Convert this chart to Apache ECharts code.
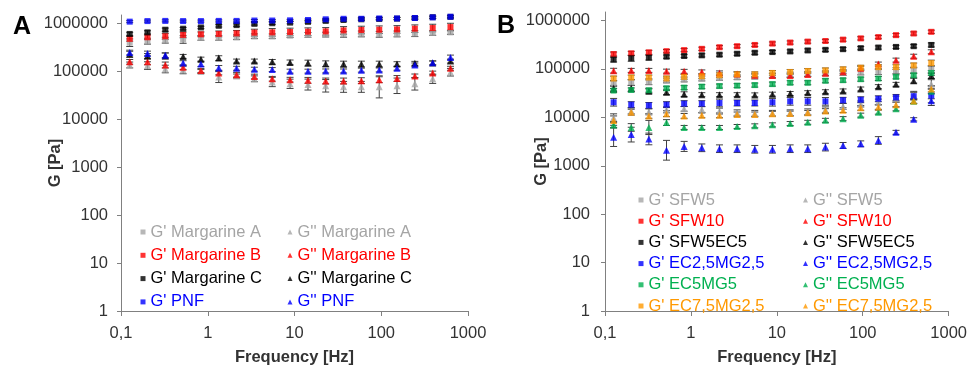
<!DOCTYPE html>
<html>
<head>
<meta charset="utf-8">
<script src="https://cdn.jsdelivr.net/npm/echarts@6/dist/echarts.min.js"></script>
<style>
  html, body { margin: 0; padding: 0; background: #fff; }
  #chart { width: 970px; height: 371px; }
</style>
</head>
<body>
<div id="chart"></div>
<script>
// frequency points (Hz), shared by every series
const freq = [0.126, 0.202, 0.324, 0.520, 0.834, 1.34, 2.15, 3.45, 5.54, 8.89, 14.3, 22.9, 36.8, 59.0, 94.8, 152, 244, 392, 628];
const xTicks = [0.1, 1, 10, 100, 1000];
const yTicks = [1, 10, 100, 1000, 10000, 100000, 1000000];

// Panel A: margarines (G' storage, G'' loss modulus, Pa) and relative error
const gpMargA  = [3.96e5, 4.26e5, 4.47e5, 4.62e5, 5.0e5, 5.0e5, 5.15e5, 5.4e5, 5.4e5, 5.58e5, 5.77e5, 5.85e5, 5.93e5, 6.04e5, 5.93e5, 6.04e5, 6.12e5, 6.33e5, 6.52e5];
const gppMargA = [1.36e5, 1.32e5, 1.12e5, 1.07e5, 9.9e4, 7.6e4, 8.0e4, 7.0e4, 6.0e4, 5.5e4, 5.3e4, 5.0e4, 4.75e4, 4.75e4, 4.75e4, 5.0e4, 5.5e4, 7.0e4, 9.6e4];
const gpMargB  = [4.77e5, 5.15e5, 5.4e5, 5.77e5, 5.93e5, 6.04e5, 6.21e5, 6.42e5, 6.52e5, 6.64e5, 6.73e5, 6.83e5, 7.16e5, 7.29e5, 7.4e5, 7.5e5, 7.77e5, 8.02e5, 8.4e5];
const gppMargB = [1.58e5, 1.58e5, 1.36e5, 1.22e5, 1.04e5, 9.3e4, 8.5e4, 7.8e4, 7.0e4, 6.7e4, 6.5e4, 6.3e4, 6.3e4, 6.4e4, 6.7e4, 7.1e4, 8.0e4, 9.2e4, 1.16e5];
const gpMargC  = [6.04e5, 6.52e5, 7.4e5, 7.77e5, 8.24e5, 8.93e5, 9.23e5, 9.81e5, 1.01e6, 1.04e6, 1.08e6, 1.13e6, 1.18e6, 1.22e6, 1.24e6, 1.26e6, 1.30e6, 1.35e6, 1.37e6];
const gppMargC = [2.28e5, 2.1e5, 2.1e5, 2.05e5, 1.8e5, 1.89e5, 1.64e5, 1.64e5, 1.58e5, 1.54e5, 1.49e5, 1.44e5, 1.42e5, 1.42e5, 1.42e5, 1.42e5, 1.47e5, 1.49e5, 1.64e5];
const gpPNF    = [1.09e6, 1.12e6, 1.13e6, 1.12e6, 1.12e6, 1.13e6, 1.13e6, 1.15e6, 1.15e6, 1.16e6, 1.18e6, 1.22e6, 1.25e6, 1.25e6, 1.27e6, 1.27e6, 1.30e6, 1.34e6, 1.38e6];
const gppPNF   = [2.47e5, 2.36e5, 2.17e5, 1.49e5, 1.42e5, 1.18e5, 1.16e5, 1.11e5, 1.09e5, 1.01e5, 1.01e5, 1.02e5, 1.02e5, 1.06e5, 1.07e5, 1.16e5, 1.36e5, 1.51e5, 1.95e5];

const eGpMargA  = [0.2, 0.15, 0.15, 0.2, 0.12, 0.12, 0.12, 0.12, 0.12, 0.1, 0.12, 0.12, 0.15, 0.15, 0.15, 0.15, 0.15, 0.12, 0.1];
const eGppMargA = [0.15, 0.2, 0.2, 0.2, 0.1, 0.3, 0.1, 0.15, 0.25, 0.25, 0.3, 0.35, 0.3, 0.3, 0.7, 0.45, 0.35, 0.25, 0.2];
const eGpMargB  = [0.12, 0.12, 0.15, 0.15, 0.12, 0.15, 0.15, 0.18, 0.2, 0.2, 0.2, 0.2, 0.2, 0.2, 0.2, 0.2, 0.2, 0.2, 0.2];
const eGppMargB = [0.12, 0.15, 0.15, 0.12, 0.1, 0.1, 0.12, 0.12, 0.12, 0.12, 0.15, 0.15, 0.15, 0.15, 0.15, 0.15, 0.1, 0.1, 0.1];
const eGpMargC  = [0.08, 0.08, 0.08, 0.06, 0.06, 0.06, 0.06, 0.06, 0.06, 0.06, 0.06, 0.06, 0.06, 0.06, 0.06, 0.06, 0.06, 0.06, 0.06];
const eGppMargC = [0.15, 0.12, 0.15, 0.1, 0.1, 0.12, 0.1, 0.1, 0.12, 0.12, 0.15, 0.15, 0.15, 0.15, 0.15, 0.12, 0.1, 0.1, 0.1];
const eGpPNF    = [0.05, 0.05, 0.05, 0.05, 0.05, 0.05, 0.05, 0.05, 0.05, 0.05, 0.05, 0.05, 0.05, 0.05, 0.05, 0.05, 0.05, 0.05, 0.05];
const eGppPNF   = [0.12, 0.12, 0.12, 0.12, 0.12, 0.12, 0.1, 0.1, 0.1, 0.1, 0.1, 0.1, 0.1, 0.1, 0.1, 0.1, 0.1, 0.1, 0.12];

// Panel B: formulations
const gpSFW5    = [5.02e4, 5.26e4, 5.44e4, 5.78e4, 6.06e4, 6.34e4, 6.56e4, 6.74e4, 6.96e4, 7.3e4, 7.64e4, 7.9e4, 8.12e4, 8.27e4, 8.67e4, 8.79e4, 9.2e4, 9.42e4, 9.65e4];
const gppSFW5   = [9.85e3, 1.36e4, 1.30e4, 1.43e4, 1.50e4, 1.45e4, 1.35e4, 1.24e4, 1.21e4, 1.21e4, 1.24e4, 1.30e4, 1.43e4, 1.68e4, 1.89e4, 2.07e4, 2.39e4, 2.87e4, 4.8e4];
const gpSFW10   = [2.03e5, 2.10e5, 2.2e5, 2.33e5, 2.45e5, 2.6e5, 2.81e5, 2.95e5, 3.13e5, 3.34e5, 3.51e5, 3.67e5, 3.78e5, 4.03e5, 4.28e5, 4.55e5, 4.99e5, 5.4e5, 5.84e5];
const gppSFW10  = [9.2e4, 9.33e4, 9.33e4, 9.0e4, 8.91e4, 8.67e4, 8.27e4, 7.9e4, 7.4e4, 7.3e4, 7.3e4, 7.64e4, 8.12e4, 8.79e4, 1.03e5, 1.26e5, 1.52e5, 1.83e5, 2.26e5];
const gpSFW5EC5 = [1.56e5, 1.66e5, 1.71e5, 1.79e5, 1.85e5, 1.91e5, 1.97e5, 2.06e5, 2.16e5, 2.23e5, 2.3e5, 2.41e5, 2.48e5, 2.56e5, 2.69e5, 2.77e5, 2.85e5, 2.95e5, 3.13e5];
const gppSFW5EC5 = [3.98e4, 3.98e4, 3.46e4, 3.30e4, 3.01e4, 2.94e4, 2.94e4, 2.94e4, 2.91e4, 3.01e4, 3.11e4, 3.23e4, 3.38e4, 3.51e4, 3.85e4, 4.31e4, 4.8e4, 5.7e4, 7.3e4];
const gpEC25    = [2.05e4, 1.83e4, 1.76e4, 1.83e4, 1.92e4, 1.92e4, 1.98e4, 1.98e4, 1.98e4, 2.05e4, 2.14e4, 2.14e4, 2.14e4, 2.25e4, 2.31e4, 2.42e4, 2.58e4, 2.74e4, 2.81e4];
const gppEC25   = [3.88e3, 4.4e3, 3.58e3, 2.09e3, 2.51e3, 2.35e3, 2.25e3, 2.25e3, 2.19e3, 2.19e3, 2.25e3, 2.25e3, 2.43e3, 2.63e3, 2.84e3, 3.33e3, 4.9e3, 9.1e3, 2.2e4];
const gpEC5     = [3.58e4, 3.68e4, 3.63e4, 3.98e4, 4.11e4, 4.31e4, 4.43e4, 4.52e4, 4.64e4, 4.86e4, 5.19e4, 5.19e4, 5.7e4, 5.86e4, 6.14e4, 6.34e4, 6.87e4, 7.4e4, 8.27e4];
const gppEC5    = [6.94e3, 6.18e3, 6.18e3, 7.8e3, 6.18e3, 6.18e3, 6.18e3, 6.47e3, 6.68e3, 7.0e3, 7.45e3, 7.9e3, 8.68e3, 9.4e3, 1.11e4, 1.28e4, 1.50e4, 2.14e4, 3.46e4];
const gpEC75    = [6.34e4, 6.65e4, 6.65e4, 6.34e4, 6.87e4, 7.06e4, 7.4e4, 7.75e4, 7.75e4, 8.27e4, 8.67e4, 9.08e4, 9.33e4, 9.8e4, 1.06e5, 1.09e5, 1.09e5, 1.18e5, 1.32e5];
const gppEC75   = [8.56e3, 1.28e4, 1.07e4, 1.19e4, 1.07e4, 1.10e4, 1.10e4, 1.15e4, 1.15e4, 1.19e4, 1.20e4, 1.24e4, 1.35e4, 1.41e4, 1.57e4, 1.64e4, 1.83e4, 2.17e4, 3.85e4];

const eGpSFW5    = [0.15, 0.15, 0.15, 0.12, 0.12, 0.12, 0.12, 0.12, 0.12, 0.12, 0.12, 0.12, 0.12, 0.12, 0.15, 0.15, 0.15, 0.15, 0.2];
const eGppSFW5   = [0.2, 0.15, 0.15, 0.15, 0.12, 0.15, 0.15, 0.15, 0.15, 0.15, 0.15, 0.15, 0.15, 0.15, 0.15, 0.15, 0.15, 0.2, 0.25];
const eGpSFW10   = [0.1, 0.1, 0.1, 0.08, 0.08, 0.08, 0.08, 0.08, 0.08, 0.08, 0.08, 0.08, 0.08, 0.08, 0.08, 0.08, 0.08, 0.08, 0.08];
const eGppSFW10  = [0.12, 0.1, 0.1, 0.1, 0.1, 0.1, 0.1, 0.1, 0.1, 0.1, 0.1, 0.1, 0.1, 0.1, 0.1, 0.1, 0.1, 0.1, 0.1];
const eGpSFW5EC5 = [0.12, 0.15, 0.12, 0.08, 0.08, 0.08, 0.08, 0.08, 0.08, 0.08, 0.08, 0.08, 0.08, 0.08, 0.08, 0.08, 0.08, 0.08, 0.1];
const eGppSFW5EC5 = [0.15, 0.15, 0.12, 0.12, 0.12, 0.1, 0.1, 0.1, 0.1, 0.1, 0.1, 0.1, 0.1, 0.1, 0.1, 0.1, 0.1, 0.12, 0.15];
const eGpEC25    = [0.2, 0.15, 0.15, 0.15, 0.15, 0.15, 0.2, 0.15, 0.15, 0.2, 0.2, 0.2, 0.2, 0.15, 0.15, 0.15, 0.15, 0.2, 0.6];
const eGppEC25   = [0.55, 0.42, 0.32, 0.6, 0.27, 0.2, 0.2, 0.2, 0.2, 0.2, 0.2, 0.2, 0.2, 0.15, 0.15, 0.2, 0.1, 0.08, 0.1];
const eGpEC5     = [0.1, 0.1, 0.1, 0.1, 0.1, 0.1, 0.1, 0.1, 0.1, 0.1, 0.1, 0.1, 0.1, 0.1, 0.1, 0.1, 0.1, 0.1, 0.12];
const eGppEC5    = [0.12, 0.2, 0.4, 0.15, 0.1, 0.1, 0.1, 0.1, 0.1, 0.1, 0.1, 0.1, 0.1, 0.1, 0.1, 0.1, 0.1, 0.1, 0.12];
const eGpEC75    = [0.12, 0.12, 0.12, 0.12, 0.12, 0.12, 0.12, 0.12, 0.12, 0.12, 0.12, 0.12, 0.12, 0.12, 0.12, 0.12, 0.12, 0.12, 0.15];
const eGppEC75   = [0.25, 0.15, 0.12, 0.15, 0.12, 0.12, 0.12, 0.12, 0.12, 0.12, 0.12, 0.12, 0.12, 0.12, 0.12, 0.12, 0.12, 0.12, 0.15];

const GREY = '#a5a5a5', RED = '#ff0000', BLACK = '#000000', BLUE = '#0000ff', GREEN = '#00b050', ORANGE = '#ff9900';
const FONT = '"Liberation Sans", Arial, sans-serif';
const TXT = '#333333';
const AXIS = '#808080';

const chart = echarts.init(document.getElementById('chart'), null, { renderer: 'canvas' });

function errBar(params, api) {
  const x = api.value(0);
  const lo = api.coord([x, api.value(1)]);
  const hi = api.coord([x, api.value(2)]);
  const w = 3.5;
  const st = { stroke: '#404040', lineWidth: 1 };
  return {
    type: 'group',
    children: [
      { type: 'line', shape: { x1: lo[0], y1: lo[1], x2: hi[0], y2: hi[1] }, style: st },
      { type: 'line', shape: { x1: lo[0] - w, y1: lo[1], x2: lo[0] + w, y2: lo[1] }, style: st },
      { type: 'line', shape: { x1: hi[0] - w, y1: hi[1], x2: hi[0] + w, y2: hi[1] }, style: st }
    ]
  };
}

const series = [];
function addSeries(grid, name, color, shape, vals, errs) {
  series.push({
    type: 'custom',
    xAxisIndex: grid, yAxisIndex: grid,
    silent: true,
    encode: { x: 0, y: [1, 2] },
    data: freq.map((f, i) => [f, vals[i] / (1 + errs[i]), vals[i] * (1 + errs[i])]),
    renderItem: errBar
  });
  series.push({
    type: 'scatter', name,
    xAxisIndex: grid, yAxisIndex: grid,
    silent: true,
    symbol: shape === 'sq' ? 'rect' : 'triangle',
    symbolSize: shape === 'sq' ? 6 : 7,
    itemStyle: { color },
    data: freq.map((f, i) => [f, vals[i]])
  });
}

const panelA = [
  ["G' Margarine A", GREY, 'sq', gpMargA, eGpMargA],
  ["G'' Margarine A", GREY, 'tri', gppMargA, eGppMargA],
  ["G' Margarine B", RED, 'sq', gpMargB, eGpMargB],
  ["G'' Margarine B", RED, 'tri', gppMargB, eGppMargB],
  ["G' Margarine C", BLACK, 'sq', gpMargC, eGpMargC],
  ["G'' Margarine C", BLACK, 'tri', gppMargC, eGppMargC],
  ["G' PNF", BLUE, 'sq', gpPNF, eGpPNF],
  ["G'' PNF", BLUE, 'tri', gppPNF, eGppPNF]
];
const panelB = [
  ["G' SFW5", GREY, 'sq', gpSFW5, eGpSFW5],
  ["G'' SFW5", GREY, 'tri', gppSFW5, eGppSFW5],
  ["G' SFW10", RED, 'sq', gpSFW10, eGpSFW10],
  ["G'' SFW10", RED, 'tri', gppSFW10, eGppSFW10],
  ["G' SFW5EC5", BLACK, 'sq', gpSFW5EC5, eGpSFW5EC5],
  ["G'' SFW5EC5", BLACK, 'tri', gppSFW5EC5, eGppSFW5EC5],
  ["G' EC2,5MG2,5", BLUE, 'sq', gpEC25, eGpEC25],
  ["G'' EC2,5MG2,5", BLUE, 'tri', gppEC25, eGppEC25],
  ["G' EC5MG5", GREEN, 'sq', gpEC5, eGpEC5],
  ["G'' EC5MG5", GREEN, 'tri', gppEC5, eGppEC5],
  ["G' EC7,5MG2,5", ORANGE, 'sq', gpEC75, eGpEC75],
  ["G'' EC7,5MG2,5", ORANGE, 'tri', gppEC75, eGppEC75]
];
panelA.forEach(s => addSeries(0, ...s));
panelB.forEach(s => addSeries(1, ...s));

function legend(left, top, gap, lh, items) {
  return {
    orient: 'vertical', left, top, itemGap: gap, padding: 0,
    itemWidth: 5, itemHeight: 5, selectedMode: false,
    textStyle: { fontFamily: FONT, fontSize: 16.5, lineHeight: lh },
    data: items.map(s => ({ name: s[0], icon: s[2] === 'sq' ? 'rect' : 'triangle', textStyle: { color: s[1] } }))
  };
}

function xAxis(grid) {
  return {
    type: 'log', logBase: 10, min: 0.1, max: 1000, gridIndex: grid,
    name: 'Frequency [Hz]', nameLocation: 'middle', nameGap: 38, nameMoveOverlap: false,
    nameTextStyle: { fontFamily: FONT, fontSize: 16.5, fontWeight: 'bold', color: TXT },
    axisLine: { lineStyle: { color: AXIS } },
    axisTick: { length: 5, lineStyle: { color: AXIS } },
    minorTick: { show: false },
    splitLine: { show: false },
    axisLabel: {
      fontFamily: FONT, fontSize: 16.5, color: TXT, margin: 14,
      formatter: v => (xTicks.includes(v) ? String(v).replace('.', ',') : '')
    }
  };
}

function yAxis(grid, gap, margin) {
  return {
    type: 'log', logBase: 10, min: 1, max: 1.5e6, gridIndex: grid,
    name: 'G [Pa]', nameLocation: 'middle', nameGap: gap, nameRotate: 90, nameMoveOverlap: false,
    nameTextStyle: { fontFamily: FONT, fontSize: 16.5, fontWeight: 'bold', color: TXT },
    axisLine: { show: true, lineStyle: { color: AXIS } },
    axisTick: { show: true, length: 4, lineStyle: { color: AXIS }, customValues: yTicks },
    splitLine: { show: false },
    axisLabel: {
      fontFamily: FONT, fontSize: 16.5, color: TXT, margin,
      customValues: yTicks,
      formatter: v => (yTicks.includes(Math.round(v)) ? String(Math.round(v)) : '')
    }
  };
}

chart.setOption({
  animation: false,
  backgroundColor: '#ffffff',
  textStyle: { fontFamily: FONT },
  title: [
    { text: 'A', left: 8, top: 10, textStyle: { fontFamily: FONT, fontSize: 25, fontWeight: 'bold', color: '#000' } },
    { text: 'B', left: 492, top: 9, textStyle: { fontFamily: FONT, fontSize: 25, fontWeight: 'bold', color: '#000' } }
  ],
  grid: [
    { left: 121, right: 502, top: 15, bottom: 54 },
    { left: 605, right: 19, top: 12, bottom: 54 }
  ],
  xAxis: [xAxis(0), xAxis(1)],
  yAxis: [yAxis(0, 57, 13), yAxis(1, 55, 15)],
  legend: [
    legend(140.5, 222, 3.3, 20, panelA.filter((s, i) => i % 2 === 0)),
    legend(287.5, 222, 3.3, 20, panelA.filter((s, i) => i % 2 === 1)),
    legend(638.5, 191, 3.2, 18, panelB.filter((s, i) => i % 2 === 0)),
    legend(803, 191, 3.2, 18, panelB.filter((s, i) => i % 2 === 1))
  ],
  series
});
</script>
</body>
</html>
